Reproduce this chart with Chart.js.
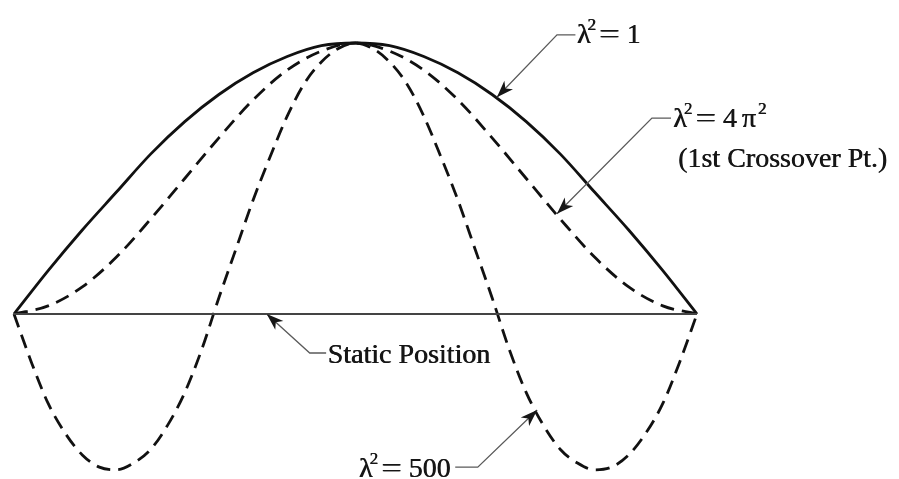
<!DOCTYPE html>
<html>
<head>
<meta charset="utf-8">
<script src="https://cdn.jsdelivr.net/npm/chart.js@4"></script>
<style>
  html, body { margin: 0; padding: 0; background: #fff; }
  #wrap { width: 899px; height: 479px; position: relative; }
</style>
</head>
<body>
<div id="wrap"><canvas id="modeChart"></canvas></div>
<script>
// span positions (fraction of beam length)
const xCoarse = [0, 0.05, 0.1, 0.15, 0.2, 0.25, 0.3, 0.35, 0.4, 0.45, 0.5,
  0.55, 0.6, 0.65, 0.7, 0.75, 0.8, 0.85, 0.9, 0.95, 1];
const xFine = [0, 0.025, 0.05, 0.075, 0.1, 0.125, 0.15, 0.175, 0.2, 0.225, 0.25,
  0.275, 0.3, 0.325, 0.35, 0.375, 0.4, 0.425, 0.45, 0.475, 0.5,
  0.525, 0.55, 0.575, 0.6, 0.625, 0.65, 0.675, 0.7, 0.725, 0.75,
  0.775, 0.8, 0.825, 0.85, 0.875, 0.9, 0.925, 0.95, 0.975, 1];

// deflection shapes
const shapeL1 = [0, 0.16, 0.31, 0.45, 0.59, 0.71, 0.81, 0.89, 0.95, 0.99, 1.0,
  0.99, 0.95, 0.89, 0.81, 0.71, 0.59, 0.45, 0.31, 0.16, 0];
const shapeL4pi2 = [0, 0.03, 0.10, 0.21, 0.35, 0.50, 0.65, 0.79, 0.90, 0.97, 1.0,
  0.97, 0.90, 0.79, 0.65, 0.50, 0.35, 0.21, 0.10, 0.03, 0];
const shapeL500 = [0, -0.175, -0.33, -0.44, -0.52, -0.565, -0.575, -0.55, -0.5, -0.41, -0.29,
  -0.13, 0.06, 0.24, 0.42, 0.58, 0.73, 0.85, 0.93, 0.98, 1.0,
  0.98, 0.93, 0.85, 0.73, 0.58, 0.42, 0.24, 0.06, -0.13, -0.29,
  -0.41, -0.5, -0.55, -0.575, -0.565, -0.52, -0.44, -0.33, -0.175, 0];
const staticX = [0, 1];
const staticY = [0, 0];

// label pieces: [text, kind]
const labelL1 = [["λ", ""], ["2", "sup"], ["=", "eq"], ["1", "val"]];
const labelL4pi2 = [["λ", ""], ["2", "sup"], ["=", "eq"], ["4", "val"], ["π", "pi"], ["2", "supPi"]];
const labelL500 = [["λ", ""], ["2", "sup"], ["=", "eq"], ["500", "val"]];
const labelStatic = [["Static Position", ""]];

// callouts: arrow tip, elbow, end of horizontal stub, text anchor (data units)
const callouts = [
  { tip: [0.707, 0.80], elbow: [0.795, 1.03], stub: [0.822, 1.03], text: [0.824, 1.0], label: labelL1, align: "left" },
  { tip: [0.795, 0.37], elbow: [0.934, 0.723], stub: [0.962, 0.723], text: [0.965, 0.69], label: labelL4pi2, align: "left" },
  { tip: [0.370, 0.0], elbow: [0.433, -0.144], stub: [0.457, -0.144], text: [0.459, -0.181], label: labelStatic, align: "left" },
  { tip: [0.766, -0.354], elbow: [0.679, -0.565], stub: [0.646, -0.565], text: [0.639, -0.60], label: labelL500, align: "right" }
];
const subNote = { text: "(1st Crossover Pt.)", at: [0.972, 0.542] };

const toPts = (xs, ys) => xs.map((x, i) => ({ x, y: ys[i] }));

const FONT = '28px "Liberation Serif"';
const SUP = '17px "Liberation Serif"';
const ink = "#161616";

// spacing before each piece kind, and width tweak after it
const before = { "": 3, sup: -3, supPi: 2, eq: 4, val: 7, pi: 5 };
const after = { "": 0, sup: -1, supPi: 0, eq: 0, val: 0, pi: 0 };
const isSup = (k) => k === "sup" || k === "supPi";

function pieceWidth(ctx, t, kind) {
  ctx.font = isSup(kind) ? SUP : FONT;
  const w = ctx.measureText(t).width;
  return kind === "eq" ? w * 1.3 : w;
}

function layoutWidth(ctx, parts) {
  return parts.reduce((sum, [t, k], i) =>
    sum + (i ? before[k] : 0) + pieceWidth(ctx, t, k) + after[k], 0);
}

// printed type is a little heavier than the screen face, so double-strike it
function heavyText(ctx, t, x, y) {
  ctx.fillText(t, x, y);
  ctx.fillText(t, x + 0.6, y);
}

function drawRich(ctx, parts, x, y, align) {
  let cx = align === "right" ? x - layoutWidth(ctx, parts) : x;
  parts.forEach(([t, k], i) => {
    if (i) cx += before[k];
    const w = pieceWidth(ctx, t, k);
    ctx.font = isSup(k) ? SUP : FONT;
    if (k === "eq") {
      ctx.save();
      ctx.translate(cx, y);
      ctx.scale(1.3, 1);
      heavyText(ctx, t, 0, 0);
      ctx.restore();
    } else {
      heavyText(ctx, t, cx, isSup(k) ? y - 13 : y);
    }
    cx += w + after[k];
  });
}

function arrowHead(ctx, fx, fy, tx, ty) {
  const a = Math.atan2(ty - fy, tx - fx);
  const len = 17, half = 6;
  ctx.beginPath();
  ctx.moveTo(tx, ty);
  ctx.lineTo(tx - len * Math.cos(a) + half * Math.sin(a), ty - len * Math.sin(a) - half * Math.cos(a));
  ctx.lineTo(tx - len * 0.72 * Math.cos(a), ty - len * 0.72 * Math.sin(a));
  ctx.lineTo(tx - len * Math.cos(a) - half * Math.sin(a), ty - len * Math.sin(a) + half * Math.cos(a));
  ctx.closePath();
  ctx.fill();
}

const calloutPlugin = {
  id: "callouts",
  afterDatasetsDraw(chart) {
    const { ctx, scales: { x, y } } = chart;
    const px = (p) => [x.getPixelForValue(p[0]), y.getPixelForValue(p[1])];
    ctx.save();
    callouts.forEach((c) => {
      const [tx, ty] = px(c.tip), [ex, ey] = px(c.elbow), [sx, sy] = px(c.stub);
      ctx.strokeStyle = "#5a5a5a";
      ctx.lineWidth = 1.3;
      ctx.beginPath();
      ctx.moveTo(sx, sy);
      ctx.lineTo(ex, ey);
      ctx.lineTo(tx, ty);
      ctx.stroke();
      ctx.fillStyle = ink;
      arrowHead(ctx, ex, ey, tx, ty);
    });
    ctx.fillStyle = ink;
    ctx.textBaseline = "alphabetic";
    ctx.textAlign = "left";
    callouts.forEach((c) => {
      const [lx, ly] = px(c.text);
      drawRich(ctx, c.label, lx, ly, c.align);
    });
    const [nx, ny] = px(subNote.at);
    ctx.font = FONT;
    heavyText(ctx, subNote.text, nx, ny);
    ctx.restore();
  }
};

const dash = [14, 8];

new Chart(document.getElementById("modeChart"), {
  type: "line",
  data: {
    datasets: [
      { label: "Static Position", data: toPts(staticX, staticY), borderColor: "#444", borderWidth: 1.8 },
      { label: "λ² = 1", data: toPts(xCoarse, shapeL1), borderColor: "#111", borderWidth: 2.8, cubicInterpolationMode: "monotone" },
      { label: "λ² = 4π²", data: toPts(xCoarse, shapeL4pi2), borderColor: "#111", borderWidth: 2.8, borderDash: dash, cubicInterpolationMode: "monotone" },
      { label: "λ² = 500", data: toPts(xFine, shapeL500), borderColor: "#111", borderWidth: 2.8, borderDash: dash, cubicInterpolationMode: "monotone" }
    ]
  },
  options: {
    responsive: true,
    maintainAspectRatio: false,
    animation: false,
    events: [],
    layout: { padding: { left: 14, right: 202, top: 43, bottom: 2.4 } },
    elements: { point: { radius: 0 } },
    datasets: { line: { clip: false } },
    plugins: { legend: { display: false }, tooltip: { enabled: false } },
    scales: {
      x: { type: "linear", min: 0, max: 1, display: false },
      y: { min: -0.6, max: 1.0, display: false }
    }
  },
  plugins: [calloutPlugin]
});
</script>
</body>
</html>
